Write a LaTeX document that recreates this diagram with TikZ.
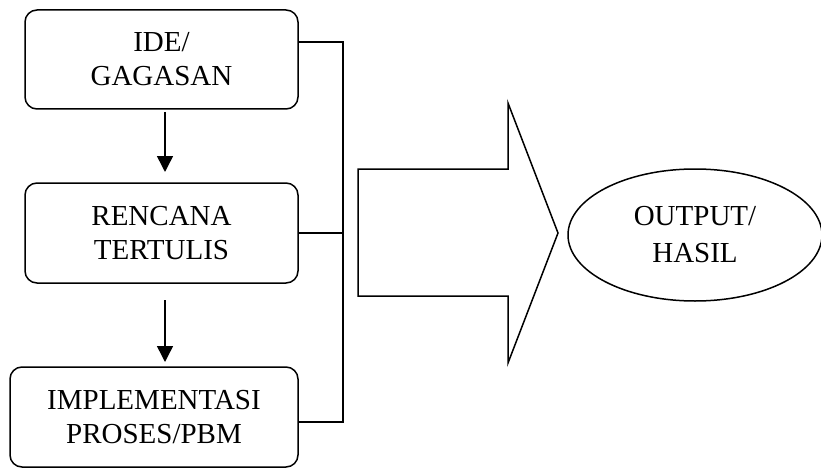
\documentclass[tikz,border=0pt]{standalone}
\usepackage{fontspec}
\setmainfont{Liberation Serif}
\usetikzlibrary{shapes.geometric,arrows.meta}

\begin{document}
\begin{tikzpicture}[x=1pt,y=-1pt]

	\tikzset{stepbox/.style={draw, line width=1.5pt, rounded corners=12pt, align=center, font=\fontsize{29}{34}\selectfont}}
	\useasboundingbox (0,0) rectangle (821,468);

	\node[stepbox, minimum width=273pt, minimum height=99pt] (Ide) at (161.5,59.5) {IDE/\\GAGASAN};
	\node[stepbox, minimum width=273pt, minimum height=100pt] (Rencana) at (161.5,233) {RENCANA\\TERTULIS};
	\node[stepbox, minimum width=288pt, minimum height=100pt] (Implementasi) at (154,417) {IMPLEMENTASI\\PROSES/PBM};

	\coordinate (busTop) at (343,42);
	\coordinate (busBot) at (343,422);
	\coordinate (arrA) at (165,112);
	\coordinate (arrB) at (165,172);
	\coordinate (arrC) at (165,300);
	\coordinate (arrD) at (165,362);

	\draw[line width=1.5pt] (Ide.east |- busTop) -- (busTop) -- (busBot) -- (Implementasi.east |- busBot);
	\draw[line width=1.5pt] (Rencana.east) -- (Rencana.east -| busTop);

	\draw[line width=1.5pt,-{Triangle[length=16pt,width=16pt]}] (arrA) -- (arrB);
	\draw[line width=1.5pt,-{Triangle[length=16pt,width=16pt]}] (arrC) -- (arrD);

	\draw[line width=1.5pt] (358,169) -- (508,169) -- (508,103) -- (558,233) -- (508,363) -- (508,296) -- (358,296) -- cycle;

	\node[draw, ellipse, line width=1.5pt, minimum width=254pt, minimum height=132pt, align=center, font=\fontsize{29}{37}\selectfont] (Output) at (695,235) {OUTPUT/\\HASIL};

\end{tikzpicture}
\end{document}
